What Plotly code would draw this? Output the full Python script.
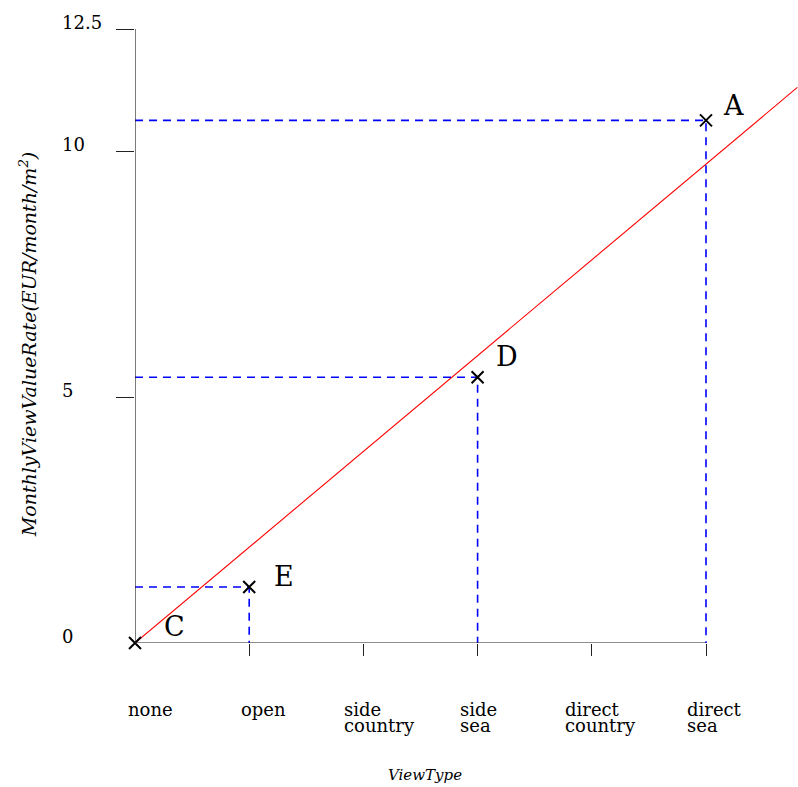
import plotly.graph_objects as go

# ---- data ----
categories = ["none", "open", "side\ncountry", "side\nsea", "direct\ncountry", "direct\nsea"]
point_labels = ["C", "E", "D", "A"]
point_cats = ["none", "open", "side\nsea", "direct\nsea"]
point_values = [0.0, 1.14, 5.41, 10.64]
trend_x = [0.0, 5.8]
trend_y = [0.0, 11.31]
ytick_vals = [0, 5, 10, 12.5]
ytick_text = ["0", "5", "10", "12.5"]
x_title = "ViewType"
y_title = "MonthlyViewValueRate(EUR/month/m<sup>2</sup>)"

# ---- styles ----
SERIF = "DejaVu Serif"
AX_COL = "#222222"
label_shift = {"C": (39, 17), "E": (35, 11), "D": (29, 21), "A": (27, 15)}
xlabel_shift = [-9, -10, -21, -20, -29, -21]

cat_idx = {c: i for i, c in enumerate(categories)}
px = [cat_idx[c] for c in point_cats]
n_last = len(categories) - 1

fig = go.Figure()

# trend line
fig.add_trace(go.Scatter(x=trend_x, y=trend_y, mode="lines",
                         line=dict(color="#ff0000", width=1.1),
                         hoverinfo="skip", showlegend=False))

# dashed guides
for xi, yi in zip(px, point_values):
    if yi == 0:
        continue
    fig.add_trace(go.Scatter(x=[0, xi, xi], y=[yi, yi, 0], mode="lines",
                             line=dict(color="#0000ff", width=1.6, dash="8px,6px"),
                             hoverinfo="skip", showlegend=False, cliponaxis=False))

# points
fig.add_trace(go.Scatter(x=px, y=point_values, mode="markers",
                         marker=dict(symbol="x-thin", size=12,
                                     line=dict(color="black", width=2)),
                         cliponaxis=False, showlegend=False))

# point labels
for lab, xi, yi in zip(point_labels, px, point_values):
    dx, dy = label_shift[lab]
    fig.add_annotation(x=xi, y=yi, text=lab, showarrow=False,
                       xanchor="center", yanchor="middle", xshift=dx, yshift=dy,
                       font=dict(family=SERIF, size=27, color="black"))

# axis lines
fig.add_shape(type="line", x0=0, x1=n_last, y0=0, y1=0, xref="x", yref="y",
              line=dict(color=AX_COL, width=1.2))
fig.add_shape(type="line", x0=0, x1=0, y0=0, y1=ytick_vals[-1], xref="x", yref="y",
              line=dict(color=AX_COL, width=1.2))

# x tick labels (left aligned, two lines)
for i, cat in enumerate(categories):
    for j, line in enumerate(cat.split("\n")):
        fig.add_annotation(x=i, y=0, xref="x", yref="y", text=line, showarrow=False,
                           xanchor="left", yanchor="middle",
                           xshift=xlabel_shift[i], yshift=-66 - 16 * j,
                           font=dict(family=SERIF, size=18, color="black"))

# y tick labels (left aligned)
for v, t in zip(ytick_vals, ytick_text):
    fig.add_annotation(x=0, y=v, xref="paper", yref="y", text=t, showarrow=False,
                       xanchor="left", yanchor="middle", xshift=-75, yshift=7,
                       font=dict(family=SERIF, size=18, color="black"))

# axis titles
fig.add_annotation(x=n_last / 2, y=0, xref="x", yref="y", text=x_title, showarrow=False,
                   xanchor="center", yanchor="middle", yshift=-132, xshift=4,
                   font=dict(family=SERIF, size=15, color="black", style="italic"))
fig.add_annotation(x=0, y=0.485, xref="paper", yref="paper", text=y_title, showarrow=False,
                   xanchor="center", yanchor="middle", xshift=-107, textangle=-90,
                   font=dict(family=SERIF, size=19, color="black", style="italic"))

fig.update_layout(
    width=798, height=787,
    margin=dict(l=135, r=0, t=29, b=144),
    plot_bgcolor="white", paper_bgcolor="white",
    xaxis=dict(range=[0, 663 / 114.2], tickvals=list(range(1, len(categories))),
               ticks="outside", ticklen=12, tickcolor=AX_COL, tickwidth=1.2,
               showticklabels=False, showgrid=False, zeroline=False, showline=False,
               fixedrange=True),
    yaxis=dict(range=[0, 12.5], tickvals=ytick_vals[1:],
               ticks="outside", ticklen=18, tickcolor=AX_COL, tickwidth=1.2,
               showticklabels=False, showgrid=False, zeroline=False, showline=False,
               fixedrange=True),
    showlegend=False,
)

fig.write_html("out.html")
